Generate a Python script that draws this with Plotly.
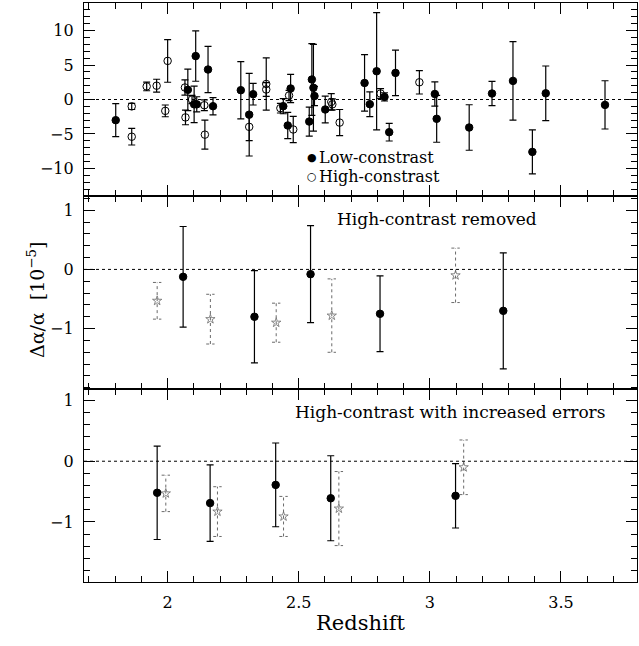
import plotly.graph_objects as go
from plotly.subplots import make_subplots

# top panel: all absorbers (values in units of 1e-5)
low_z = [1.802, 2.077, 2.101, 2.107, 2.111, 2.154, 2.173, 2.279, 2.311, 2.326,
         2.441, 2.458, 2.469, 2.540, 2.550, 2.556, 2.560, 2.601, 2.751, 2.771,
         2.797, 2.827, 2.845, 2.869, 3.019, 3.026, 3.150, 3.237, 3.317, 3.391,
         3.442, 3.668]
low_v = [-3.0, 1.4, -0.7, 6.3, -0.7, 4.35, -0.97, 1.35, -2.2, 0.77,
         -0.97, -3.77, 1.6, -3.2, 2.9, 1.7, 0.5, -1.45, 2.4, -0.68,
         4.1, 0.38, -4.74, 3.86, 0.8, -2.8, -4.06, 0.87, 2.7, -7.6,
         0.9, -0.78]
low_e = [2.4, 3.0, 2.65, 3.65, 1.1, 3.35, 1.25, 4.15, 6.0, 1.57,
         1.1, 1.9, 2.05, 2.1, 5.2, 6.3, 1.4, 1.95, 4.1, 1.8,
         8.5, 0.6, 1.28, 3.3, 1.76, 3.4, 3.3, 1.76, 5.7, 3.2,
         3.96, 3.5]

high_z = [1.863, 1.863, 1.920, 1.958, 1.991, 2.000, 2.066, 2.068, 2.093, 2.140,
          2.142, 2.311, 2.376, 2.376, 2.430, 2.463, 2.479, 2.624, 2.628, 2.656,
          2.812, 2.960]
high_v = [-1.0, -5.4, 1.9, 2.0, -1.65, 5.6, 1.74, -2.6, 0.0, -0.83,
          -5.1, -3.97, 2.25, 1.45, -1.26, 0.58, -4.35, -0.35, -0.7, -3.35,
          0.87, 2.5]
high_e = [0.45, 1.2, 0.63, 0.94, 0.85, 3.1, 1.1, 1.06, 0.6, 0.77,
          2.1, 2.0, 3.8, 1.0, 0.7, 0.75, 1.9, 1.2, 0.8, 1.9,
          0.7, 1.7]

# middle panel: binned, high-contrast removed
rem_z = [2.059, 2.331, 2.545, 2.810, 3.280]
rem_v = [-0.125, -0.80, -0.08, -0.75, -0.70]
rem_e = [0.85, 0.78, 0.82, 0.64, 0.98]

# dotted reference bins (middle panel)
ref_z = [1.960, 2.163, 2.414, 2.626, 3.098]
ref_v = [-0.53, -0.84, -0.90, -0.78, -0.10]
ref_e = [0.31, 0.42, 0.33, 0.62, 0.46]

# bottom panel: high-contrast with increased errors
inc_z = [1.960, 2.162, 2.412, 2.622, 3.098]
inc_v = [-0.52, -0.69, -0.39, -0.61, -0.57]
inc_e = [0.77, 0.63, 0.69, 0.70, 0.53]

ref2_z = [1.993, 2.190, 2.442, 2.653, 3.129]
ref2_v = [-0.53, -0.83, -0.91, -0.78, -0.10]
ref2_e = [0.30, 0.41, 0.33, 0.61, 0.45]

FONT = "DejaVu Serif"
GREY = "#6a6a6a"
CAP = 0.016  # half cap width in redshift units


def err_points(z, v, e, filled=True):
    sym = "circle" if filled else "circle-open"
    return go.Scatter(
        x=z, y=v, mode="markers",
        marker=dict(symbol=sym, size=7.5, color="black", line=dict(color="black", width=1)),
        error_y=dict(type="data", array=e, color="black", thickness=1.2, width=3.5),
        showlegend=False,
    )


def dotted_bars(z, v, e):
    xs, ys = [], []
    for zi, vi, ei in zip(z, v, e):
        lo, hi = vi - ei, vi + ei
        xs += [zi, zi, None, zi - CAP, zi + CAP, None, zi - CAP, zi + CAP, None]
        ys += [lo, hi, None, lo, lo, None, hi, hi, None]
    bars = go.Scatter(x=xs, y=ys, mode="lines", line=dict(color=GREY, width=1, dash="dot"),
                      showlegend=False, hoverinfo="skip")
    pts = go.Scatter(x=z, y=v, mode="markers",
                     marker=dict(symbol="star-open", size=7, color=GREY, line=dict(color=GREY, width=0.8)),
                     showlegend=False)
    return [bars, pts]


fig = make_subplots(rows=3, cols=1, shared_xaxes=True, vertical_spacing=0)

fig.add_trace(err_points(low_z, low_v, low_e, True), row=1, col=1)
fig.add_trace(err_points(high_z, high_v, high_e, False), row=1, col=1)

for tr in dotted_bars(ref_z, ref_v, ref_e):
    fig.add_trace(tr, row=2, col=1)
fig.add_trace(err_points(rem_z, rem_v, rem_e, True), row=2, col=1)

for tr in dotted_bars(ref2_z, ref2_v, ref2_e):
    fig.add_trace(tr, row=3, col=1)
fig.add_trace(err_points(inc_z, inc_v, inc_e, True), row=3, col=1)

axis_common = dict(
    showline=True, linecolor="black", linewidth=1.2, mirror="allticks",
    ticks="inside", ticklen=11, tickwidth=1, tickcolor="black",
    showgrid=False, zeroline=False, automargin=False,
    tickfont=dict(family=FONT, size=16, color="black"),
)
minor_x = dict(dtick=0.1, ticks="inside", ticklen=6, tickcolor="black", showgrid=False)

for r in (1, 2, 3):
    fig.update_xaxes(
        range=[1.681, 3.79], dtick=0.5, tick0=2, minor=minor_x,
        showticklabels=(r == 3), ticklabelstandoff=6, row=r, col=1, **axis_common,
    )
    fig.add_hline(y=0, line=dict(color="black", width=1, dash="dot"), row=r, col=1)

fig.update_yaxes(range=[-14, 14], tickvals=[-10, -5, 0, 5, 10],
                 minor=dict(dtick=1, ticks="inside", ticklen=6, tickcolor="black", showgrid=False),
                 ticklabelstandoff=6, row=1, col=1, **axis_common)
fig.update_yaxes(range=[-2.02, 1.24], tickvals=[-1, 0, 1],
                 minor=dict(dtick=0.2, ticks="inside", ticklen=6, tickcolor="black", showgrid=False),
                 ticklabelstandoff=6, row=2, col=1, **axis_common)
fig.update_yaxes(range=[-1.99, 1.19], tickvals=[-1, 0, 1],
                 minor=dict(dtick=0.2, ticks="inside", ticklen=6, tickcolor="black", showgrid=False),
                 ticklabelstandoff=6, row=3, col=1, **axis_common)

fig.update_xaxes(title=dict(text="Redshift", font=dict(family=FONT, size=21, color="black"), standoff=4),
                 row=3, col=1)

txt = dict(family=FONT, size=17, color="black")
leg_font = dict(family=FONT, size=16, color="black")
sym_font = dict(family="DejaVu Sans", size=11, color="black")
fig.add_annotation(text="\u25cf", xref="paper", yref="paper", x=0.413, y=0.734,
                   xanchor="center", yanchor="middle", showarrow=False, font=sym_font)
fig.add_annotation(text="\u25cb", xref="paper", yref="paper", x=0.413, y=0.701,
                   xanchor="center", yanchor="middle", showarrow=False, font=sym_font)
fig.add_annotation(text="Low-constrast", xref="paper", yref="paper", x=0.422, y=0.734,
                   xanchor="left", yanchor="middle", showarrow=False, font=leg_font)
fig.add_annotation(text="High-constrast", xref="paper", yref="paper", x=0.422, y=0.701,
                   xanchor="left", yanchor="middle", showarrow=False, font=leg_font)
fig.add_annotation(text="High-contrast removed", xref="paper", yref="paper", x=0.823, y=0.627,
                   xanchor="right", yanchor="middle", showarrow=False, font=txt)
fig.add_annotation(text="High-contrast with increased errors", xref="paper", yref="paper",
                   x=0.946, y=0.293, xanchor="right", yanchor="middle", showarrow=False, font=txt)
fig.add_annotation(text="\u0394\u03b1/\u03b1  [10<sup>\u22125</sup>]", xref="paper", yref="paper",
                   x=-0.112, y=0.487, textangle=-90, showarrow=False,
                   font=dict(family=FONT, size=19, color="black"))

fig.update_layout(
    width=639, height=646,
    margin=dict(l=84, r=2, t=3, b=64, autoexpand=False),
    plot_bgcolor="white", paper_bgcolor="white",
    font=dict(family=FONT, color="black"),
    showlegend=False,
)

# page body has a default 8px margin; drop it so the figure sits at the window corner
fig.write_html("out.html", config={"displayModeBar": False},
               post_script="document.body.style.margin='0';")
